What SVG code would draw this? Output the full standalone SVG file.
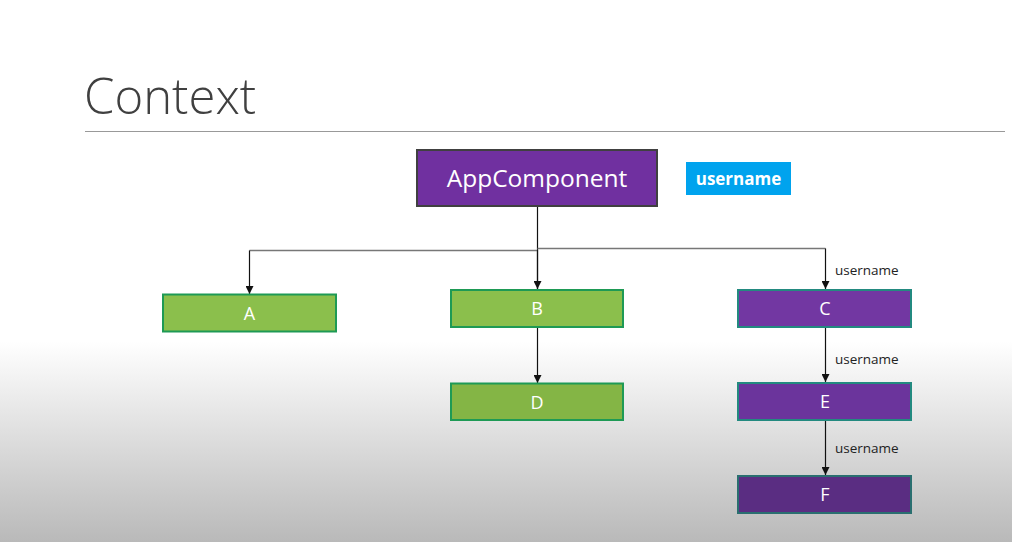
<svg xmlns="http://www.w3.org/2000/svg" width="1012" height="542" viewBox="0 0 1012 542">
<defs>
<linearGradient id="bg" x1="0" y1="0" x2="0" y2="1">
<stop offset="0" stop-color="#ffffff"/>
<stop offset="0.63" stop-color="#ffffff"/>
<stop offset="1" stop-color="#b9b9b9"/>
</linearGradient>
<marker id="arr" viewBox="0 0 10 10" refX="10" refY="5" markerWidth="8" markerHeight="8" markerUnits="userSpaceOnUse" orient="auto">
<path d="M0,0 L10,5 L0,10 z" fill="#111"/>
</marker>
</defs>
<style>
.green{fill:#8bbf4c;stroke:#1e9a55;stroke-width:2}
.purple{fill:#7237a2;stroke:#238a80;stroke-width:2}
.lbl{font-family:"Open Sans","Noto Sans",sans-serif;font-size:18px;fill:#ffffff;text-anchor:middle}
.edge{fill:none;stroke:#111;stroke-width:1.2}
.hline{fill:none;stroke:#777;stroke-width:1.5}
.elbl{font-family:"Open Sans","Noto Sans",sans-serif;font-size:13.5px;fill:#222}
</style>
<rect x="0" y="0" width="1012" height="542" fill="url(#bg)"/>
<text x="84" y="114" font-family="Open Sans, Noto Sans, sans-serif" font-size="49" font-weight="300" fill="#404040">Context</text>
<line x1="85" y1="131.5" x2="1005" y2="131.5" stroke="#999" stroke-width="1.2"/>

<g id="connectors">
<line class="edge" x1="537.5" y1="207" x2="537.5" y2="289"/>
<polyline class="hline" points="537.5,250.5 249.5,250.5"/>
<polyline class="hline" points="537.5,248.5 825.5,248.5"/>
<line class="edge" x1="249.5" y1="250.5" x2="249.5" y2="294" marker-end="url(#arr)"/>
<line class="edge" x1="537.5" y1="250" x2="537.5" y2="289" marker-end="url(#arr)"/>
<line class="edge" x1="825.5" y1="248.5" x2="825.5" y2="289" marker-end="url(#arr)"/>
<line class="edge" x1="537.5" y1="328" x2="537.5" y2="383" marker-end="url(#arr)"/>
<line class="edge" x1="825.5" y1="328" x2="825.5" y2="382" marker-end="url(#arr)"/>
<line class="edge" x1="825.5" y1="421" x2="825.5" y2="475" marker-end="url(#arr)"/>
<text class="elbl" x="835" y="275">username</text>
<text class="elbl" x="835" y="364">username</text>
<text class="elbl" x="835" y="453">username</text>
</g>

<g id="AppComponent">
<rect x="417" y="150" width="240" height="56" fill="#7030a0" stroke="#404040" stroke-width="2"/>
<text class="lbl" x="537" y="187" style="font-size:24.5px">AppComponent</text>
</g>
<g id="username">
<rect x="686" y="162" width="105" height="33" fill="#00a3ee"/>
<text x="738.5" y="185" font-family="Open Sans, Noto Sans, sans-serif" font-size="17" font-weight="700" fill="#ffffff" text-anchor="middle">username</text>
</g>
<g id="A">
<rect class="green" x="163" y="294.5" width="173" height="37"/>
<text class="lbl" x="249.5" y="320">A</text>
</g>
<g id="B">
<rect class="green" x="451" y="290" width="172" height="37"/>
<text class="lbl" x="537" y="315">B</text>
</g>
<g id="D">
<rect class="green" x="451" y="383.5" width="172" height="36.5" style="fill:#84b545"/>
<text class="lbl" x="537" y="409">D</text>
</g>
<g id="C">
<rect class="purple" x="738" y="290" width="173" height="37"/>
<text class="lbl" x="825" y="315">C</text>
</g>
<g id="E">
<rect class="purple" x="738" y="383" width="173" height="37" style="fill:#6b349c"/>
<text class="lbl" x="825" y="408">E</text>
</g>
<g id="F">
<rect class="purple" x="738" y="476" width="173" height="37" style="fill:#5a2d82;stroke:#2a6f70"/>
<text class="lbl" x="825" y="501">F</text>
</g>
</svg>
